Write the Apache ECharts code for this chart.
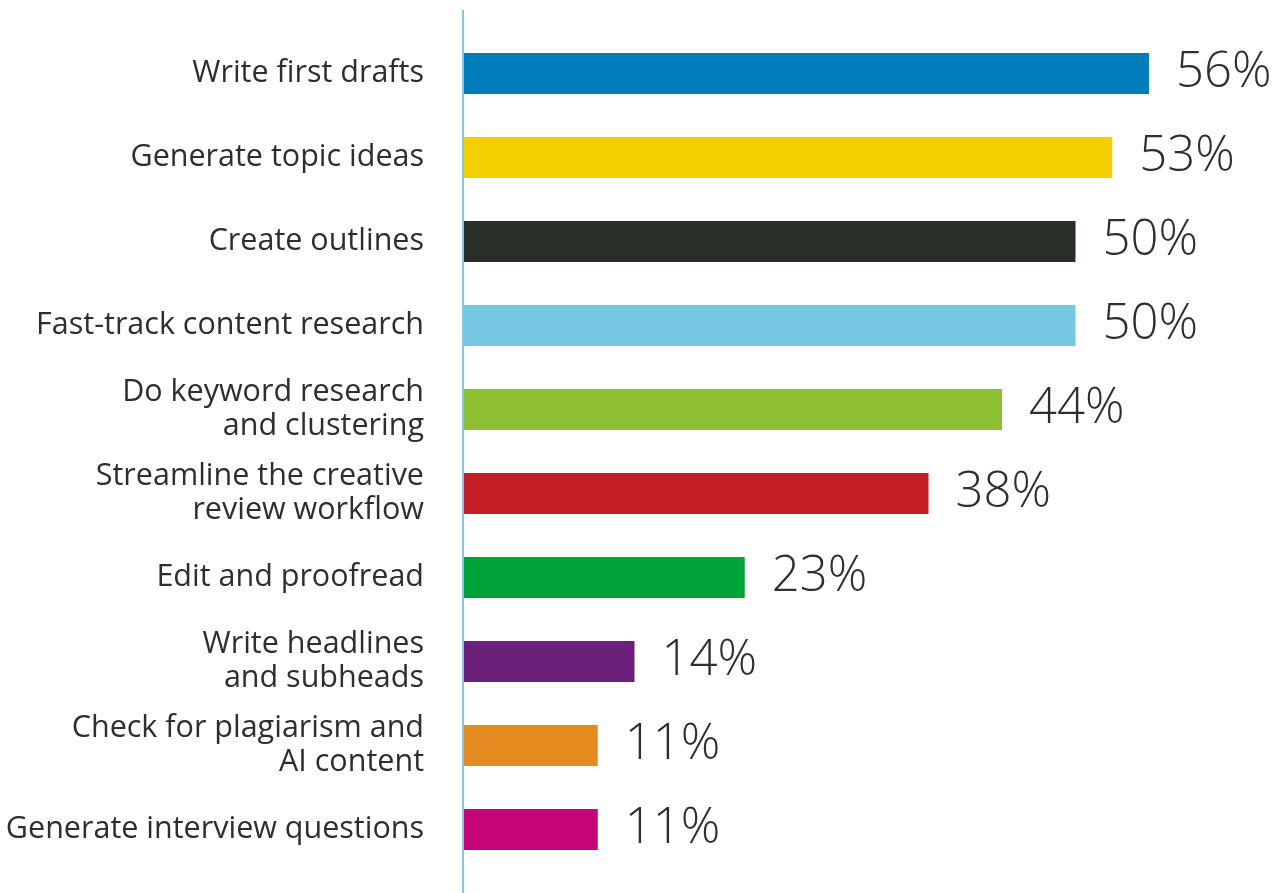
<!DOCTYPE html>
<html>
<head>
<meta charset="utf-8">
<script src="https://cdn.jsdelivr.net/npm/echarts@6/dist/echarts.min.js"></script>
<style>
  html, body { margin: 0; padding: 0; background: #ffffff; }
  #chart { width: 1281px; height: 893px; }
</style>
</head>
<body>
<div id="chart"></div>
<script>
// Tasks, listed top to bottom
const categories = [
  'Write first drafts',
  'Generate topic ideas',
  'Create outlines',
  'Fast-track content research',
  'Do keyword research\nand clustering',
  'Streamline the creative\nreview workflow',
  'Edit and proofread',
  'Write headlines\nand subheads',
  'Check for plagiarism and\nAI content',
  'Generate interview questions'
];
// Share of respondents (%)
const values = [56, 53, 50, 50, 44, 38, 23, 14, 11, 11];
// One colour per bar
const barColors = [
  '#007dbb', '#f4d000', '#2a2e28', '#76c7e2', '#8dc031',
  '#c41e26', '#00a33a', '#6b2179', '#e68b20', '#c5047a'
];

const textColor = '#2d2f2c';
const fontFamily = '"Open Sans", "Noto Sans", sans-serif';

const chart = echarts.init(document.getElementById('chart'), null, { renderer: 'canvas' });

chart.setOption({
  backgroundColor: '#ffffff',
  animation: false,
  grid: { left: 463, right: 83, top: 31.5, bottom: 21.5, containLabel: false },
  xAxis: {
    type: 'value',
    min: 0,
    max: 60,
    show: false
  },
  yAxis: {
    type: 'category',
    inverse: true,
    data: categories,
    axisLine: { show: false },
    axisTick: { show: false },
    axisLabel: {
      margin: 39,
      color: textColor,
      fontFamily: fontFamily,
      fontWeight: 'normal',
      fontSize: 30.5,
      lineHeight: 34,
      align: 'right',
      padding: [6, 0, 0, 0]
    }
  },
  series: [{
    type: 'bar',
    data: values.map((v, i) => ({ value: v, itemStyle: { color: barColors[i] } })),
    barWidth: 41,
    label: {
      show: true,
      position: 'right',
      distance: 27,
      formatter: '{c}%',
      color: textColor,
      fontFamily: fontFamily,
      fontWeight: 300,
      fontSize: 49,
      padding: [4, 0, 0, 0]
    }
  }]
});

// Vertical baseline at x = 0, running the full height of the chart
const x0 = chart.convertToPixel({ xAxisIndex: 0 }, 0);
chart.setOption({
  graphic: [{
    type: 'line',
    shape: { x1: x0, y1: 10, x2: x0, y2: 893 },
    style: { stroke: '#7fcbe7', lineWidth: 2 },
    z: 10
  }]
});
</script>
</body>
</html>
